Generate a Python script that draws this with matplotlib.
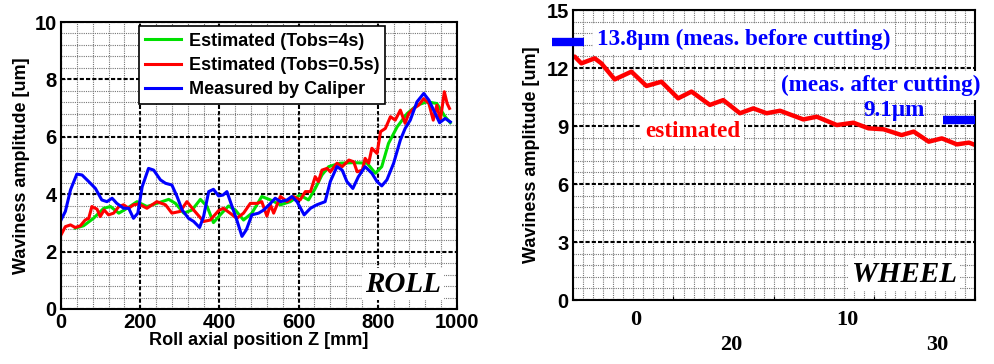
import matplotlib
matplotlib.use("Agg")
import matplotlib.pyplot as plt
from matplotlib.ticker import MultipleLocator
import matplotlib.transforms as mtransforms

plt.rcParams['font.family'] = ['Liberation Sans', 'DejaVu Sans']

# ---- ROLL data (left) ----
meas_z = [0, 11, 24, 40, 53, 70, 87, 103, 116, 129, 141, 158, 171, 183, 194, 205, 221, 234, 251, 264,
          280, 293, 306, 322, 335, 350, 360, 373, 385, 398, 409, 419, 432, 444, 457, 468, 482, 499, 512,
          529, 541, 554, 571, 583, 596, 614, 630, 646, 667, 680, 697, 710, 722, 737, 751, 768, 785, 798,
          810, 823, 840, 857, 869, 882, 899, 916, 929, 941, 956, 970, 983]
meas_amp = [3.1, 3.4, 4.15, 4.7, 4.67, 4.44, 4.2, 3.8, 3.74, 3.86, 3.68, 3.51, 3.51, 3.16, 3.34, 4.26,
            4.9, 4.84, 4.5, 4.38, 4.32, 3.92, 3.45, 3.16, 3.05, 2.84, 3.22, 4.09, 4.17, 3.94, 3.97, 4.09,
            3.57, 3.1, 2.53, 2.76, 3.28, 3.34, 3.45, 3.68, 3.86, 3.74, 3.8, 3.92, 3.74, 3.28, 3.51, 3.63,
            3.74, 4.44, 4.96, 4.84, 4.44, 4.2, 4.61, 4.96, 4.73, 4.44, 4.29, 4.5, 5.08, 5.89, 6.29, 6.58,
            7.22, 7.51, 7.28, 6.93, 6.49, 6.64, 6.52]

est4_z = [36, 57, 82, 108, 125, 146, 167, 192, 217, 242, 272, 289, 310, 331, 352, 369, 385, 402, 423,
          440, 461, 482, 507, 529, 554, 579, 603, 625, 642, 659, 676, 705, 739, 773, 794, 810, 827, 849,
          874, 899, 924, 949, 970, 983]
est4_amp = [2.82, 2.9, 3.16, 3.51, 3.57, 3.34, 3.51, 3.74, 3.57, 3.68, 3.82, 3.68, 3.34, 3.45, 3.82,
            3.57, 3.01, 3.28, 3.59, 3.45, 3.1, 3.34, 3.92, 3.8, 3.63, 3.74, 3.97, 3.8, 4.2, 4.67, 4.96,
            5.08, 5.1, 5.08, 4.73, 4.96, 5.77, 6.35, 6.81, 7.1, 7.22, 7.16, 6.7, 6.49]

est05_z = [0, 11, 24, 36, 49, 61, 70, 78, 91, 99, 109, 120, 133, 146, 158, 171, 183, 196, 217, 242,
           264, 280, 301, 318, 335, 360, 377, 398, 410, 427, 444, 461, 478, 495, 507, 520, 529, 537,
           554, 571, 587, 604, 617, 630, 642, 650, 659, 672, 680, 697, 710, 727, 739, 748, 761, 768,
           777, 785, 798, 807, 819, 832, 844, 857, 869, 878, 891, 903, 916, 929, 940, 949, 958, 968,
           975, 981]
est05_amp = [2.58, 2.87, 2.93, 2.84, 2.9, 3.1, 3.16, 3.57, 3.48, 3.22, 3.45, 3.28, 3.34, 3.57, 3.63,
             3.51, 3.63, 3.66, 3.51, 3.74, 3.63, 3.34, 3.4, 3.74, 3.45, 3.05, 3.1, 3.43, 3.51, 3.34,
             3.16, 3.34, 3.68, 3.68, 3.74, 3.24, 3.63, 3.34, 3.92, 3.74, 3.92, 3.8, 4.09, 4.09, 4.61,
             4.44, 4.84, 4.9, 4.78, 5.08, 4.96, 5.19, 5.13, 4.78, 4.84, 5.25, 5.08, 5.6, 5.42, 6.18,
             6.29, 6.7, 6.58, 6.93, 6.47, 6.81, 6.99, 7.1, 7.33, 7.16, 6.58, 7.1, 6.58, 7.57, 7.16, 6.99]

# ---- WHEEL data (right) ----
wheel_t = [0.17, 0.83, 2.16, 2.82, 4.15, 5.81, 7.31, 8.8, 10.46, 11.79, 13.62, 14.95, 16.61, 17.94,
           19.27, 20.6, 22.92, 24.25, 26.25, 27.9, 29.4, 30.9, 32.7, 33.9, 35.4, 36.7, 38.2, 39.4, 40.0]
wheel_est = [12.59, 12.24, 12.5, 12.24, 11.41, 11.81, 11.07, 11.29, 10.43, 10.78, 10.09, 10.34, 9.66,
             9.91, 9.66, 9.79, 9.34, 9.48, 9.05, 9.17, 8.88, 8.83, 8.53, 8.71, 8.19, 8.36, 8.05, 8.14, 8.02]
meas_before = 13.35
meas_after = 9.3
wheel_xlabels = ['0', '10', '20', '30']
wheel_xlabel_pos = [6.2, 27.3, 15.7, 36.2]

fig = plt.figure(figsize=(9.95, 3.64), dpi=100)
W, H = 995, 364
ax1 = fig.add_axes([61 / W, 1 - 309 / H, 396 / W, 287 / H])
ax2 = fig.add_axes([573 / W, 1 - 300 / H, 402 / W, 290 / H])

# ---- left: ROLL ----
ax1.plot(est4_z, est4_amp, color='#00e000', lw=2.2, label='Estimated (Tobs=4s)')
ax1.plot(est05_z, est05_amp, color='#ff0000', lw=2.2, label='Estimated (Tobs=0.5s)')
ax1.plot(meas_z, meas_amp, color='#0000ff', lw=2.2, label='Measured by Caliper')
ax1.set_xlim(0, 1000)
ax1.set_ylim(0, 10)
ax1.xaxis.set_major_locator(MultipleLocator(200))
ax1.xaxis.set_minor_locator(MultipleLocator(40))
ax1.yaxis.set_major_locator(MultipleLocator(2))
ax1.yaxis.set_minor_locator(MultipleLocator(0.4))
ax1.set_axisbelow(True)
ax1.grid(which='minor', color='#777777', linestyle=(0, (1, 1)), linewidth=0.8)
ax1.grid(which='major', color='black', linestyle=(0, (2, 1)), linewidth=1.5)
for s in ax1.spines.values():
    s.set_linewidth(1.5)
ax1.tick_params(which='both', direction='in', length=3)
ax1.tick_params(which='minor', length=0)
for lab in ax1.get_xticklabels() + ax1.get_yticklabels():
    lab.set_fontsize(14.5)
    lab.set_fontweight('bold')
ax1.tick_params(axis='x', pad=3)
ax1.tick_params(axis='y', pad=3)
ax1.set_xlabel('Roll axial position Z [mm]', fontsize=13, fontweight='bold', labelpad=0)
ax1.set_ylabel('Waviness amplitude [um]', fontsize=13, fontweight='bold', labelpad=3)
leg = ax1.legend(loc='upper left', bbox_to_anchor=(0.197, 0.985), fontsize=13, frameon=True,
                 fancybox=False, edgecolor='black', framealpha=1, handlelength=2.0,
                 borderpad=0.35, labelspacing=0.4, handletextpad=0.4, borderaxespad=0)
leg.get_frame().set_linewidth(1.2)
for t in leg.get_texts():
    t.set_fontweight('bold')
ax1.text(0.96, 0.04, 'ROLL', transform=ax1.transAxes, ha='right', va='bottom',
         fontsize=21, fontweight='bold', fontstyle='italic', family='Liberation Serif',
         bbox=dict(facecolor='white', edgecolor='none', pad=2))

# ---- right: WHEEL ----
ax2.plot(wheel_t, wheel_est, color='#ff0000', lw=3.2, solid_capstyle='round')
ax2.set_xlim(0, 40)
ax2.set_ylim(0, 15)
ax2.xaxis.set_major_locator(MultipleLocator(10))
ax2.xaxis.set_minor_locator(MultipleLocator(1))
ax2.yaxis.set_major_locator(MultipleLocator(3))
ax2.yaxis.set_minor_locator(MultipleLocator(0.6))
ax2.set_axisbelow(True)
ax2.grid(which='minor', color='#777777', linestyle=(0, (1, 1)), linewidth=0.8)
ax2.grid(which='major', axis='y', color='black', linestyle=(0, (2, 1)), linewidth=1.5)
ax2.grid(which='major', axis='x', color='#777777', linestyle=(0, (1, 1)), linewidth=0.8)
for s in ax2.spines.values():
    s.set_linewidth(1.5)
ax2.tick_params(which='both', direction='in', length=3)
ax2.tick_params(which='minor', length=0)
ax2.set_xticklabels([])
for lab in ax2.get_yticklabels():
    lab.set_fontsize(14.5)
    lab.set_fontweight('bold')
ax2.tick_params(axis='y', pad=3)
ax2.set_ylabel('Waviness amplitude [um]', fontsize=13, fontweight='bold', labelpad=5)

trans = mtransforms.blended_transform_factory(ax2.transData, ax2.transAxes)
for i, (lab, xp) in enumerate(zip(wheel_xlabels, wheel_xlabel_pos)):
    ax2.text(xp, -0.07 if i < 2 else -0.155, lab, transform=trans, ha='center', va='center',
             fontsize=16, fontweight='bold', family='Liberation Serif')

# measured bars
ax2.plot([-2.1, 1.1], [meas_before, meas_before], color='#0000ff', lw=6, solid_capstyle='butt',
         clip_on=False, zorder=5)
ax2.plot([36.8, 40.0], [meas_after, meas_after], color='#0000ff', lw=6, solid_capstyle='butt',
         clip_on=False, zorder=5)

serif_blue = dict(color='#0000ff', fontsize=16.7, fontweight='bold', family='Liberation Serif')
ax2.text(2.4, meas_before + 0.15, '13.8\u00b5m (meas. before cutting)', ha='left', va='center',
         bbox=dict(facecolor='white', edgecolor='none', pad=3), zorder=4, **serif_blue)
ax2.text(40.5, 11.1, '(meas. after cutting)', ha='right', va='center', clip_on=False,
         bbox=dict(facecolor='white', edgecolor='none', pad=3), zorder=4, **serif_blue)
ax2.text(31.9, 9.8, '9.1\u00b5m', ha='center', va='center', zorder=4, **serif_blue)
ax2.text(11.9, 8.7, 'estimated', ha='center', va='center', color='#ff0000', fontsize=16.7,
         fontweight='bold', family='Liberation Serif',
         bbox=dict(facecolor='white', edgecolor='none', pad=3), zorder=4)
ax2.text(0.955, 0.04, 'WHEEL', transform=ax2.transAxes, ha='right', va='bottom',
         fontsize=21, fontweight='bold', fontstyle='italic', family='Liberation Serif',
         bbox=dict(facecolor='white', edgecolor='none', pad=2), zorder=4)

fig.savefig('out.png', dpi=100)
